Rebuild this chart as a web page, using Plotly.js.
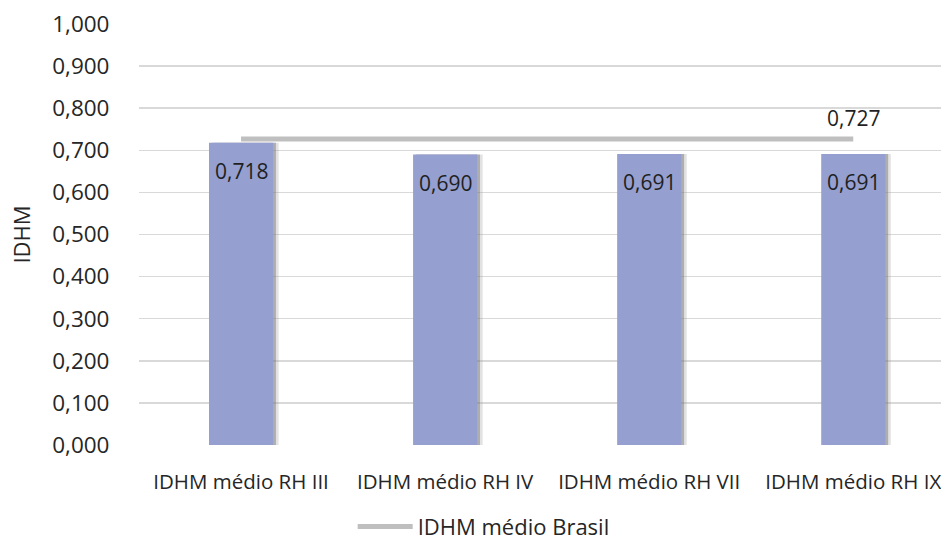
<!DOCTYPE html>
<html>
<head>
<meta charset="utf-8">
<script src="https://cdn.plot.ly/plotly-3.0.1.min.js"></script>
<style>html,body{margin:0;padding:0;background:#fff;}#chart{width:941px;height:543px;}</style>
</head>
<body>
<div id="chart"></div>
<script>
const categories = ["IDHM médio RH III", "IDHM médio RH IV", "IDHM médio RH VII", "IDHM médio RH IX"];
const idhmRegioes = [0.718, 0.690, 0.691, 0.691];
const idhmBrasil = [0.727, 0.727, 0.727, 0.727];
const brasilLabel = "IDHM médio Brasil";
const yTicks = [0, 0.1, 0.2, 0.3, 0.4, 0.5, 0.6, 0.7, 0.8, 0.9, 1.0];

const fmt = v => v.toFixed(3).replace('.', ',');
const FONT = "Open Sans, sans-serif";
const BW = 0.314;

const traces = [
  { type: 'bar', x: categories, y: idhmRegioes, width: BW, offset: -BW/2 + 0.027,
    marker: { color: 'rgba(160,160,160,0.3)', line: { width: 0 } }, showlegend: false, hoverinfo: 'skip' },
  { type: 'bar', x: categories, y: idhmRegioes, width: BW, offset: -BW/2 + 0.014,
    marker: { color: 'rgba(110,110,110,0.45)', line: { width: 0 } }, showlegend: false, hoverinfo: 'skip' },
  { type: 'bar', x: categories, y: idhmRegioes, width: BW, offset: -BW/2,
    marker: { color: '#95a0d0', line: { width: 0 } }, showlegend: false },
  { type: 'scatter', mode: 'lines', x: categories, y: idhmBrasil, name: brasilLabel,
    line: { color: '#bfbfbf', width: 5 } }
];

const annotations = idhmRegioes.map((v, i) => ({
  x: categories[i], y: v, xref: 'x', yref: 'y', text: fmt(v), showarrow: false,
  yshift: -28, font: { family: FONT, size: 21, color: '#1f1f1f' }
}));
annotations.push({
  x: categories[3], y: idhmBrasil[3], xref: 'x', yref: 'y', text: fmt(idhmBrasil[3]),
  showarrow: false, yshift: 21, font: { family: FONT, size: 21, color: '#1f1f1f' }
});

const layout = {
  width: 941, height: 543,
  margin: { l: 139, r: 0, t: 24, b: 98 },
  paper_bgcolor: '#fff', plot_bgcolor: '#fff',
  separators: ', ',
  barmode: 'overlay',
  font: { family: FONT, size: 21, color: '#262626' },
  showlegend: true,
  legend: { orientation: 'h', xref: 'container', yref: 'container', x: 0.514, xanchor: 'center',
            y: 0.03, yanchor: 'middle',
            font: { family: FONT, size: 22, color: '#262626' }, itemwidth: 55 },
  xaxis: { type: 'category', range: [-0.5, 3.43], showgrid: false, zeroline: false, showline: false,
           ticks: 'outside', ticklen: 18, tickcolor: 'rgba(0,0,0,0)',
           tickfont: { family: FONT, size: 20.5, color: '#262626' }, fixedrange: true },
  yaxis: { range: [0, 1.0], tickvals: yTicks, tickformat: '.3f', showgrid: true, gridcolor: '#d9d9d9', gridwidth: 1.5,
           zeroline: false, showline: false, ticks: 'outside', ticklen: 24, tickcolor: 'rgba(0,0,0,0)',
           tickfont: { family: FONT, size: 22.5, color: '#262626' },
           title: { text: 'IDHM', standoff: 15, font: { family: FONT, size: 22, color: '#262626' } },
           automargin: false, fixedrange: true },
  annotations: annotations
};

Plotly.newPlot('chart', traces, layout, { displayModeBar: false, staticPlot: true });
</script>
</body>
</html>
